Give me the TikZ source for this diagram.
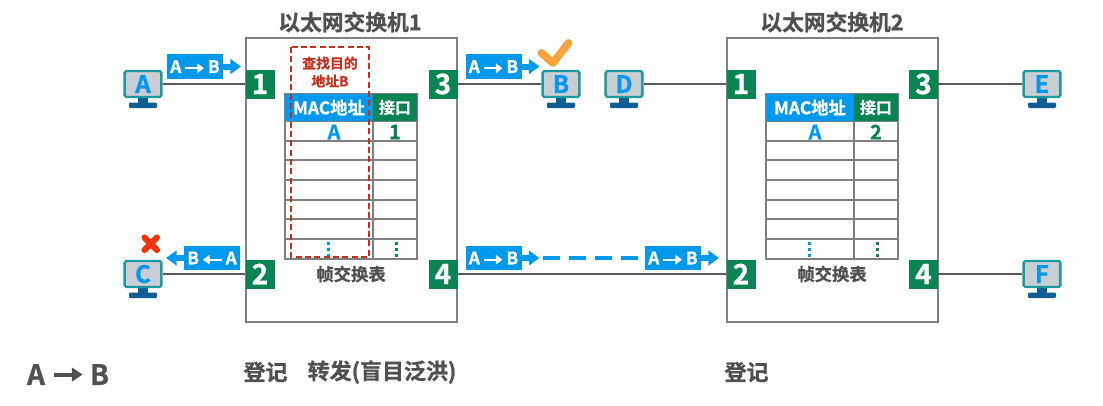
\documentclass[tikz,border=0pt]{standalone}
\usepackage{fontspec}
\setmainfont[BoldFont={Noto Sans CJK SC Bold}, BoldFeatures={FakeBold=0.9}]{Noto Sans CJK SC}
\usetikzlibrary{arrows.meta}

\definecolor{portgreen}{HTML}{0A8453}
\definecolor{macblue}{HTML}{0099EE}
\definecolor{pcteal}{HTML}{1C9AA0}
\definecolor{pcgray}{HTML}{C9CDD4}
\definecolor{pcbase}{HTML}{0F5F96}
\definecolor{txtgray}{HTML}{505050}
\definecolor{boxgray}{HTML}{808080}
\definecolor{wiregray}{HTML}{5A5A5A}
\definecolor{findred}{HTML}{C8301E}
\definecolor{okorange}{HTML}{F7A23B}
\definecolor{nored}{HTML}{F2330D}

\tikzset{
  switchbox/.style={draw=boxgray, line width=1.1pt, fill=white, minimum width=158.25pt, minimum height=213pt, inner sep=0pt},
  port/.style={fill=portgreen, text=white, font=\bfseries\fontsize{21}{21}\selectfont, minimum size=21.75pt, inner sep=0pt},
  wire/.style={draw=wiregray, line width=1.8pt},
  screen/.style={draw=pcteal, line width=1.8pt, fill=pcgray, rounded corners=1.2pt, text=macblue, font=\bfseries\fontsize{18}{18}\selectfont, minimum width=27.5pt, minimum height=19.5pt, inner sep=0pt},
  packet/.style={fill=macblue, text=white, font=\bfseries\fontsize{13}{13}\selectfont, minimum width=42pt, minimum height=18.5pt, inner sep=0pt},
  packetarrow/.style={draw=macblue, line width=4.5pt, -{Triangle[length=8pt, width=11pt]}},
  header/.style={text=white, font=\bfseries\fontsize{12}{12}\selectfont, minimum height=20pt, inner sep=0pt},
  title/.style={text=txtgray, font=\bfseries\fontsize{16.3}{16.3}\selectfont},
  steplabel/.style={text=txtgray, font=\bfseries\fontsize{16.5}{16.5}\selectfont},
  gridline/.style={draw=boxgray, line width=1.1pt},
  entry/.style={font=\bfseries\fontsize{15}{15}\selectfont, inner sep=0pt},
  morerows/.style={line width=2.3pt, dash pattern=on 2.3pt off 2.2pt}
}

% white arrows inside the packets
\newcommand{\toright}{\tikz[baseline=-0.5ex]\draw[white, line width=1.6pt, -{Triangle[length=5pt, width=7pt]}] (0,0) -- (14pt,0);}
\newcommand{\toleft}{\tikz[baseline=-0.5ex]\draw[white, line width=1.6pt, {Triangle[length=5pt, width=7pt]}-] (0,0) -- (14pt,0);}

% name, letter, x, y
\newcommand{\computer}[4]{
  \fill[pcbase] (#3-5,#4+14) rectangle (#3+5,#4+19);
  \fill[pcbase, rounded corners=0.8pt] (#3-14,#4+18.5) rectangle (#3+14,#4+24);
  \node[screen] (#1) at (#3,#4) {#2};
}

\begin{document}
\begin{tikzpicture}[x=0.75pt, y=-0.75pt]

  \useasboundingbox (0,0) rectangle (1103,405);

  \node[title] at (350,22) {以太网交换机1};
  \node[title] at (832,22) {以太网交换机2};

  \node[switchbox] (swone) at (351.5,180) {};
  \node[switchbox] (swtwo) at (832.5,180) {};

  % ports of the first switch
  \node[port] (oneportone) at (260,84) {1};
  \node[port] (oneporttwo) at (260,274) {2};
  \node[port] (oneportthree) at (443,84) {3};
  \node[port] (oneportfour) at (443,274) {4};

  % ports of the second switch
  \node[port] (twoportone) at (741,84) {1};
  \node[port] (twoporttwo) at (741,274) {2};
  \node[port] (twoportthree) at (923.5,84) {3};
  \node[port] (twoportfour) at (923.5,274) {4};

  \computer{pca}{A}{143}{84}
  \computer{pcb}{B}{561}{84}
  \computer{pcc}{C}{143}{274}
  \computer{pcd}{D}{624}{84}
  \computer{pce}{E}{1042}{84}
  \computer{pcf}{F}{1042}{274}

  \draw[wire] (pca) -- (oneportone);
  \draw[wire] (pcc) -- (oneporttwo);
  \draw[wire] (oneportthree) -- (pcb);
  \draw[wire] (oneportfour) -- (twoporttwo);
  \draw[wire] (pcd) -- (twoportone);
  \draw[wire] (twoportthree) -- (pce);
  \draw[wire] (twoportfour) -- (pcf);

  % frame table of the first switch
  \foreach \y in {121,141,160,180,200,219,239,259}
    \draw[gridline] (285,\y) -- (417,\y);
  \draw[gridline] (285,94) rectangle (417,259);
  \draw[gridline] (373,94) -- (373,259);
  \node[header, fill=macblue, minimum width=66pt, font=\bfseries\fontsize{13}{13}\selectfont] (onemac) at (329,107.5) {MAC地址};
  \node[header, fill=portgreen, minimum width=33pt] (oneif) at (395,107.5) {接口};
  \node[entry, text=macblue] at (334,132) {A};
  \node[entry, text=portgreen] at (395,132) {1};
  \draw[morerows, macblue] (328.5,241.5) -- (328.5,257);
  \draw[morerows, portgreen] (396.5,241.5) -- (396.5,257);
  \node[text=txtgray, font=\bfseries\fontsize{13}{13}\selectfont] at (351,274) {帧交换表};

  % frame table of the second switch
  \foreach \y in {121,141,160,180,200,219,239,259}
    \draw[gridline] (766,\y) -- (898,\y);
  \draw[gridline] (766,94) rectangle (898,259);
  \draw[gridline] (854,94) -- (854,259);
  \node[header, fill=macblue, minimum width=66pt, font=\bfseries\fontsize{13}{13}\selectfont] (twomac) at (810,107.5) {MAC地址};
  \node[header, fill=portgreen, minimum width=33pt] (twoif) at (876,107.5) {接口};
  \node[entry, text=macblue] at (815,132) {A};
  \node[entry, text=portgreen] at (876,132) {2};
  \draw[morerows, macblue] (809.5,241.5) -- (809.5,257);
  \draw[morerows, portgreen] (877.5,241.5) -- (877.5,257);
  \node[text=txtgray, font=\bfseries\fontsize{13}{13}\selectfont] at (832,274) {帧交换表};

  % lookup marker
  \draw[findred, line width=1.2pt, dash pattern=on 4.5pt off 2.5pt] (291,47) rectangle (369,257);
  \node[text=findred, font=\bfseries\fontsize{10.4}{13.5}\selectfont, align=center] at (330,72) {查找目的\\地址B};

  % packets
  \node[packet] (packetone) at (195,66.5) {A\,\toright\,B};
  \coordinate (tipone) at (241,66.5);
  \draw[packetarrow] (packetone) -- (tipone);

  \node[packet] (packetthree) at (493.5,66.5) {A\,\toright\,B};
  \coordinate (tipthree) at (539.5,66.5);
  \draw[packetarrow] (packetthree) -- (tipthree);

  \node[packet] (packettwo) at (212,258) {B\,\toleft\,A};
  \coordinate (tiptwo) at (166,258);
  \draw[packetarrow] (packettwo) -- (tiptwo);

  \node[packet] (packetfour) at (493.5,258) {A\,\toright\,B};
  \coordinate (tipfour) at (539.5,258);
  \draw[packetarrow] (packetfour) -- (tipfour);

  \node[packet] (packetfive) at (673,258) {A\,\toright\,B};
  \coordinate (tipfive) at (719,258);
  \draw[packetarrow] (packetfive) -- (tipfive);

  \draw[macblue, line width=2.5pt, dash pattern=on 13pt off 6.5pt] (tipfour) ++(3,0) -- (packetfive.west);

  % check and cross
  \draw[okorange, line width=5.8pt, line cap=round, line join=round] (541.5,53) -- (553,63) -- (568.5,43);
  \draw[nored, line width=4.6pt, line cap=round] (144.5,237.5) -- (157,250);
  \draw[nored, line width=4.6pt, line cap=round] (157,237.5) -- (144.5,250);

  % bottom labels
  \node[text=txtgray, font=\bfseries\fontsize{21}{21}\selectfont] (srcletter) at (36,374.5) {A};
  \node[text=txtgray, font=\bfseries\fontsize{21}{21}\selectfont] (dstletter) at (99.5,374.5) {B};
  \draw[txtgray, line width=3pt, shorten <=3pt, shorten >=2pt, -{Triangle[length=8pt, width=10pt]}] (srcletter.east) -- (dstletter.west);

  \node[steplabel] at (265.5,372) {登记};
  \node[steplabel] at (382,372) {转发(盲目泛洪)};
  \node[steplabel] at (746.5,372) {登记};

\end{tikzpicture}
\end{document}
